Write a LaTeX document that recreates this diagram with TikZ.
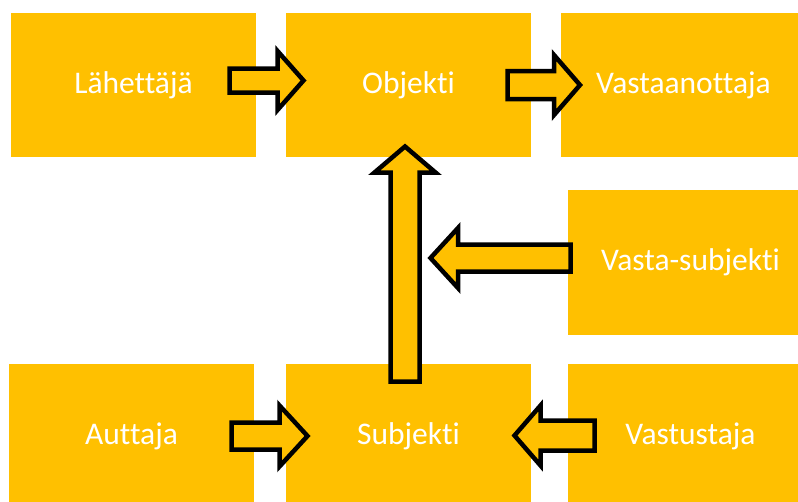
\documentclass[tikz,border=0pt]{standalone}
\usepackage{fontspec}
\setmainfont[Ligatures={NoCommon}]{Carlito}
\definecolor{gold}{HTML}{FFC000}
\tikzset{
  box/.style={fill=gold, draw=none, inner sep=0pt, minimum width=245pt,
    minimum height=144pt, text=white, font=\fontsize{31.5}{36}\selectfont},
  blockarrow/.style={fill=gold, draw=black, line width=4.5pt, line join=miter}
}
\begin{document}
\begin{tikzpicture}[x=1pt, y=-1pt]
  \useasboundingbox (0,0) rectangle (798,501);
  \clip (0,0) rectangle (798,501);

  % role boxes
  \node[box] (lah)  at (133.5,85)  {Lähettäjä};
  \node[box] (obj)  at (408.5,85)  {Objekti};
  \node[box] (vas)  at (683.5,85)  {Vastaanottaja};
  \node[box, minimum height=145pt] (vsub) at (690.5,262.5) {Vasta-subjekti};
  \node[box] (aut)  at (131.5,436) {Auttaja};
  \node[box] (sub)  at (408.5,436) {Subjekti};
  \node[box] (vast) at (690.5,436) {Vastustaja};

  % block arrows: lähettäjä -> objekti
  \draw[blockarrow] (229.5,68.5) -- (277.5,68.5) -- (277.5,51) -- (303.5,80.5)
    -- (277.5,110) -- (277.5,92.5) -- (229.5,92.5) -- cycle;
  % objekti -> vastaanottaja
  \draw[blockarrow] (507.5,71) -- (554,71) -- (554,55) -- (580,85)
    -- (554,115) -- (554,99) -- (507.5,99) -- cycle;
  % subjekti -> objekti
  \draw[blockarrow] (390.5,381.5) -- (390.5,172.5) -- (374.5,172.5) -- (405,146.5)
    -- (435.5,172.5) -- (419.5,172.5) -- (419.5,381.5) -- cycle;
  % vasta-subjekti -> main axis
  \draw[blockarrow] (570.5,244.5) -- (458,244.5) -- (458,228) -- (430.5,258)
    -- (458,288) -- (458,271.5) -- (570.5,271.5) -- cycle;
  % auttaja -> subjekti
  \draw[blockarrow] (231.5,422.5) -- (279.5,422.5) -- (279.5,405.5) -- (307.5,436)
    -- (279.5,466.5) -- (279.5,449.5) -- (231.5,449.5) -- cycle;
  % vastustaja -> subjekti
  \draw[blockarrow] (594.5,420.5) -- (540.5,420.5) -- (540.5,405.5) -- (514.5,435.5)
    -- (540.5,465.5) -- (540.5,450.5) -- (594.5,450.5) -- cycle;
\end{tikzpicture}
\end{document}
